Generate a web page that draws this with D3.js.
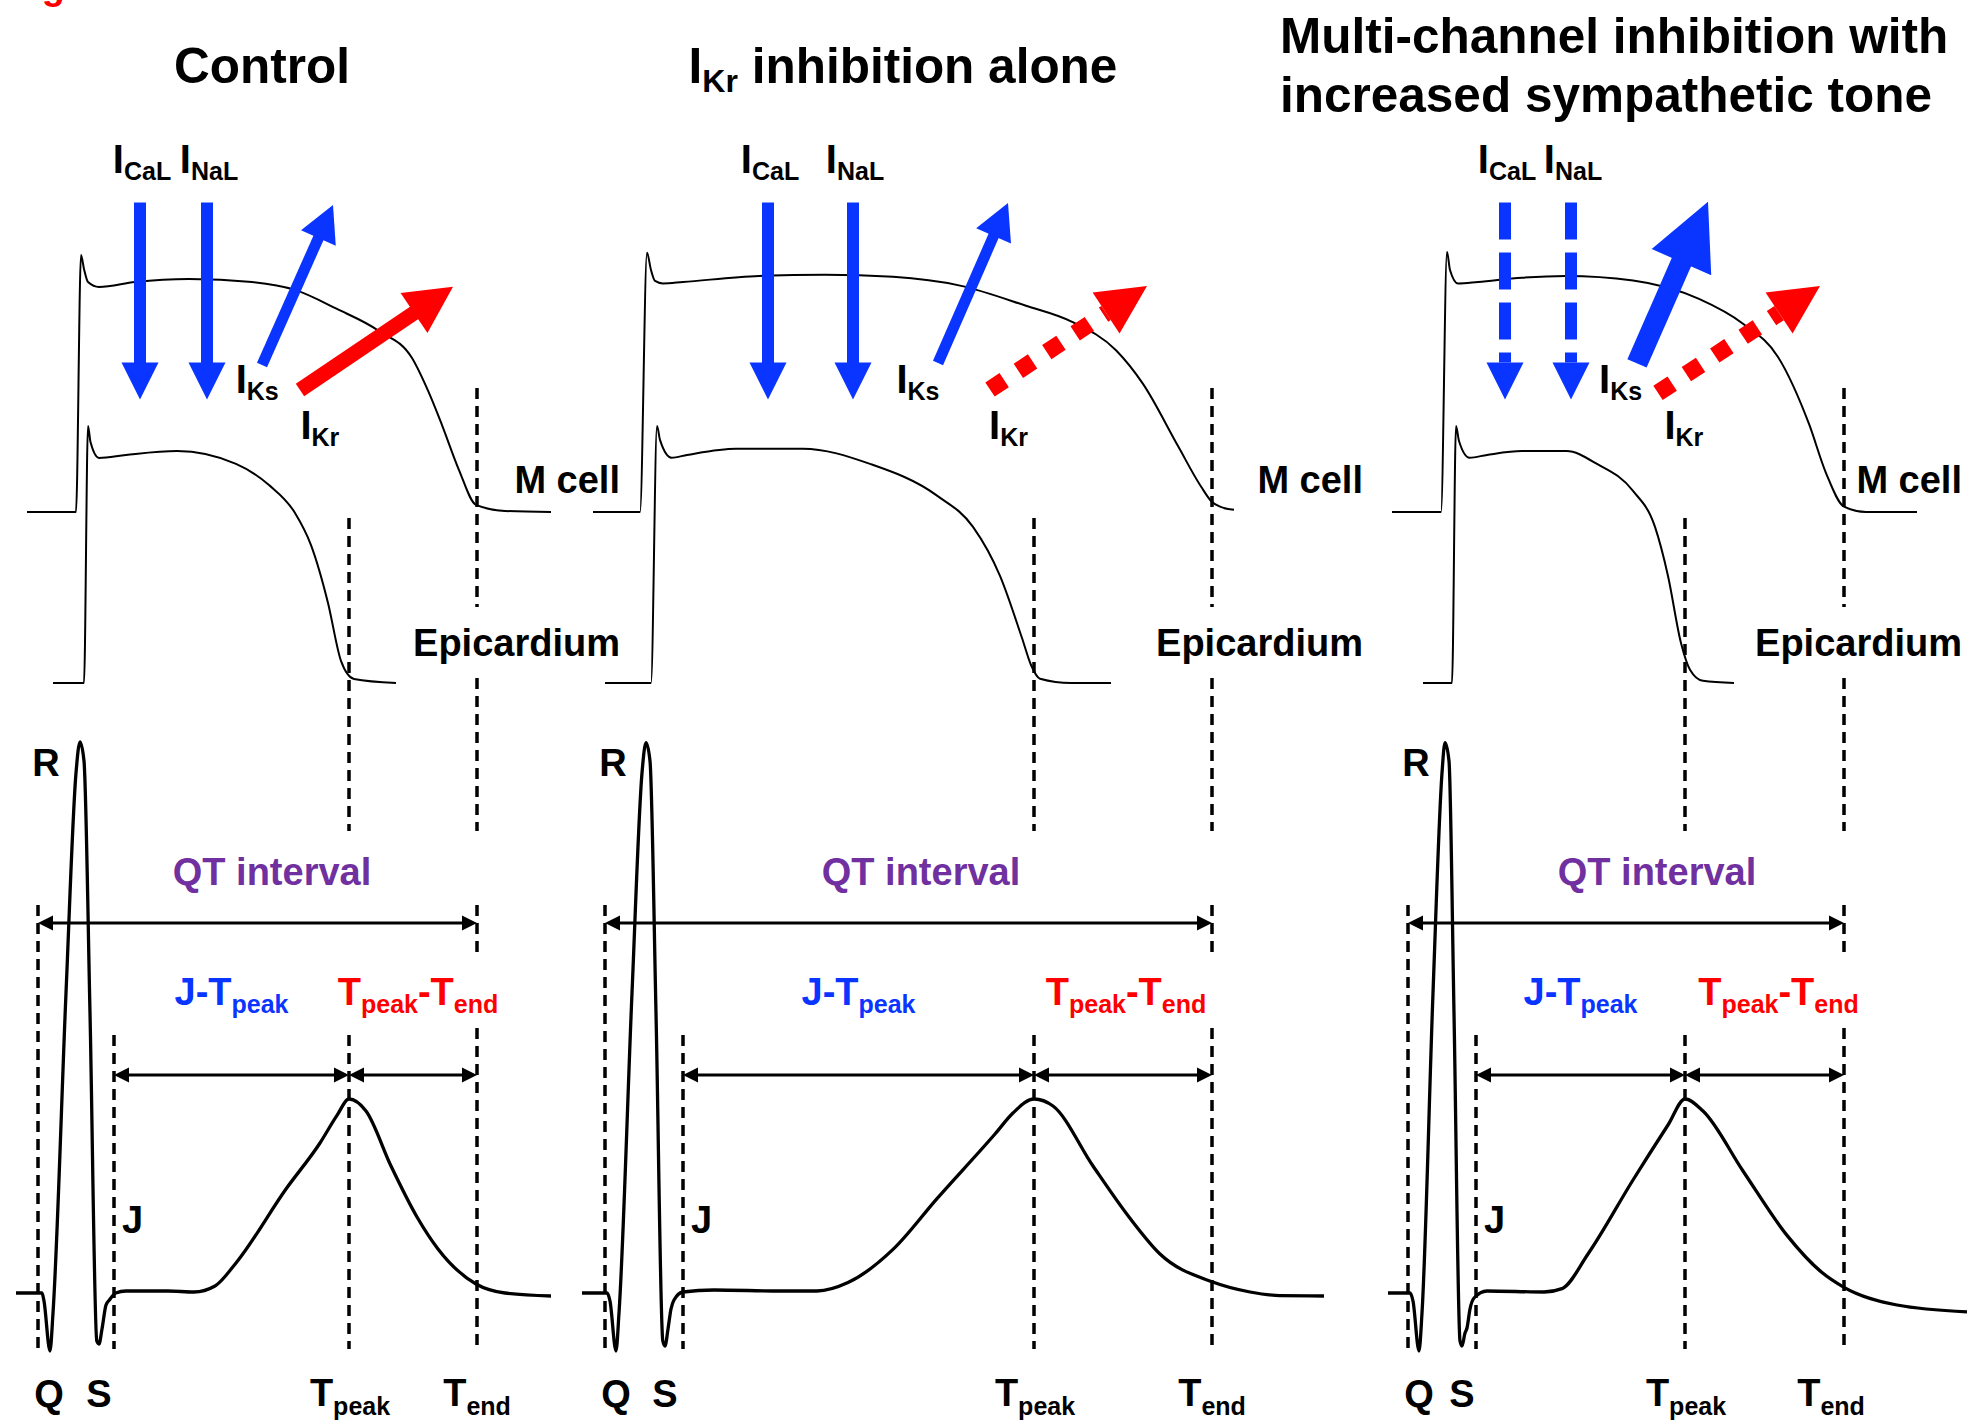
<!DOCTYPE html>
<html>
<head>
<meta charset="utf-8">
<script src="https://cdn.jsdelivr.net/npm/d3@7"></script>
<style>
  body { margin: 0; background: #fff; }
  svg text { font-family: "Liberation Sans", Arial, sans-serif; font-weight: bold; white-space: pre; }
</style>
</head>
<body>
<svg id="fig" width="1971" height="1424"></svg>
<script>
// ---- data -------------------------------------------------------------
// panel titles ("_" toggles subscript, "|" breaks the line)
var titles = ["Control", "I_Kr_ inhibition alone", "Multi-channel inhibition with|increased sympathetic tone"];

// action potentials, [time from Q onset (ms), membrane potential (mV)]
var mCellAP = [
  [[-11,-85],[36,-85],[38,-85],[43,35],[46,28.5],[50,22.4],[61,20.1],[97,22.4],[151,23.8],[214,22.4],[257,18.7],[299,9.8],[341,-0.5],[374,-13.1],[391,-29.4],[404,-44.4],[421,-65.4],[438,-81.7],[467,-84.5],[513,-85]],
  [[-12,-85],[33,-85],[35,-85],[42,36],[46,28],[50,22.9],[58,21.7],[78,22.4],[154,25.2],[220,25.8],[288,24.8],[355,20.7],[421,11.3],[466,4],[511,-9.5],[538,-25.2],[573,-54.2],[596,-73.1],[607,-80.3],[615,-82.5],[629,-84]],
  [[-16,-85],[31,-85],[33,-85],[39,36.4],[42,28],[50,21.7],[70,22.4],[114,24.4],[158,25.2],[225,23.1],[291,14.5],[335,2.9],[370,-12.6],[401,-43.9],[418,-66.8],[436,-82.5],[458,-85],[509,-85]]
];
var epiAP = [
  [[15,-85],[44,-85],[46,-85],[50,35],[52.5,27.5],[61,20.1],[88,21.5],[139,23.3],[198,17.3],[231,7.4],[257,-5.6],[273,-20.6],[290,-47.6],[303,-74.7],[316,-83.1],[358,-85]],
  [[0,-85],[44,-85],[46,-85],[52,35],[55,28.5],[66.5,20.2],[82,21.5],[131,24.4],[198,24.4],[265,17.3],[332,2.5],[368,-12.1],[395,-35],[417,-64],[426,-76.6],[435,-83],[466,-85],[506,-85]],
  [[15,-85],[42,-85],[44,-85],[48,35],[51,28],[61.5,20.2],[79,21.5],[114,23.3],[158.5,23.3],[189,17.3],[225,4.7],[247,-12.1],[260,-35],[273,-66.3],[282,-78.8],[295,-84],[326,-85]]
];

// surface ECG, [time from Q onset (ms), amplitude (mV)]
var ecg = [
  [[-22,0],[4,0],[6,-0.02],[12,-0.145],[15,-0.05],[28,0.75],[38,1.3],[42,1.378],[46,1.33],[52,0.7],[58.8,-0.12],[61,-0.1275],[64,-0.09],[68,-0.03],[71.4,-0.0175],[77.7,0],[88,0.005],[130,0.005],[156,0.0025],[177,0.0175],[198,0.075],[248,0.26],[282,0.375],[299,0.444],[311,0.485],[328,0.455],[353,0.3175],[379,0.19],[400,0.11],[438,0.0225],[467,0],[513,-0.0075]],
  [[-23,0],[2,0],[5,-0.02],[11,-0.145],[14,-0.05],[27,0.75],[37,1.3],[41,1.376],[45,1.33],[51,0.7],[57.8,-0.12],[60,-0.1325],[63,-0.09],[66,-0.04],[69,-0.0175],[78,0.0025],[109,0.0075],[176,0.005],[212,0.005],[243,0.026],[288,0.109],[332,0.236],[390,0.3975],[408,0.45],[429,0.485],[448,0.4675],[488,0.3175],[524,0.19],[555,0.0975],[607,0.028],[645,0.0025],[675,-0.0065],[719,-0.0075]],
  [[-20,0],[2,0],[5,-0.02],[11,-0.145],[14,-0.05],[25,0.75],[34,1.3],[37,1.376],[41,1.33],[46,0.7],[52,-0.12],[54,-0.1325],[57,-0.1],[59,-0.0875],[62,-0.04],[66,-0.0125],[79,0.005],[136,0.0025],[154,0.011],[180,0.0975],[225,0.2825],[260,0.42],[277,0.485],[295,0.455],[335,0.305],[379,0.144],[414,0.051],[436,0.014],[489,-0.03],[559,-0.047]]
];

// ECG fiducial times (ms from Q onset)
var fidQ = [0, 0, 0];
var fidJ = [76, 78, 68];
var fidS = [61, 60, 54];
var fidTpeak = [311, 429, 277];
var fidTend = [439, 607, 436];

// ionic currents, arrow tail/tip in the (ms, mV) frame of the M cell AP
var currentNames = ["I_CaL", "I_NaL", "I_Ks", "I_Kr"];
var currentFrom = [
  [[102, 59.5], [169, 59.5], [224, -16.4], [262, -28]],
  [[163, 59.5], [248, 59.5], [333, -15.4], [385, -27.8]],
  [[97, 59.5], [163, 59.5], [229, -15.6], [250, -29.4]]
];
var currentTo = [
  [[102, -32.5], [169, -32.5], [295, 58.3], [415, 20.2]],
  [[163, -32.5], [248, -32.5], [403, 59.3], [542, 20.5]],
  [[97, -32.5], [163, -32.5], [300, 59.9], [412, 20.5]]
];
var currentState = [
  ["normal", "normal", "normal", "normal"],
  ["normal", "normal", "normal", "blocked"],
  ["reduced", "reduced", "enhanced", "blocked"]
];

// ---- layout -----------------------------------------------------------
var BLUE = "#0a34ff", RED = "#ff0000", PURPLE = "#7030a0";
var layout = [
  {x0: 38, right: 620, titleX: 262, titleAnchor: "middle", titleY: [82.6], qtLabel: 234, tpteShift: 5, tendShift: 0,
   labels: [[104, 73.5], [171, 73.5], [197.7, -29.6], [262.4, -50.9]]},
  {x0: 605, right: 1363, titleX: 903, titleAnchor: "middle", titleY: [82.6], qtLabel: 316, tpteShift: 3, tendShift: 0,
   labels: [[165, 73.5], [250, 73.5], [291.4, -29.6], [384, -50.9]]},
  {x0: 1408, right: 1962, titleX: 1280, titleAnchor: "start", titleY: [52.7, 111.6], qtLabel: 249, tpteShift: 14, tendShift: -13,
   labels: [[99, 73.5], [165, 73.5], [191, -29.6], [256.4, -50.9]]}
];
// vertical extents of the dashed guide lines (px)
var guideRows = {
  Q: [[905, 1349]],
  J: [[1035, 1349]],
  Tpeak: [[518, 831], [1035, 1349]],
  Tend: [[388, 607], [678, 831], [905, 956], [1028, 1349]]
};
var arrowStyle = {
  down: {normal: {shaft: 12, headW: 37, headL: 37}, reduced: {shaft: 12, headW: 37, headL: 37, dash: "37,13"}},
  ks: {normal: {shaft: 11, headW: 38, headL: 36}, enhanced: {shaft: 21, headW: 65, headL: 66}},
  kr: {normal: {shaft: 15, headW: 48, headL: 47}, blocked: {shaft: 17, headW: 49, headL: 49, dash: "17,17"}}
};

var svg = d3.select("#fig");
var mScale = d3.scaleLinear().domain([-85, 35]).range([512, 255]);
var eScale = d3.scaleLinear().domain([-85, 35]).range([683, 426]);
var ecgScale = d3.scaleLinear().domain([0, 1]).range([1293, 893]);

function trace(x, y) {
  return d3.line().x(function (d) { return x(d[0]); }).y(function (d) { return y(d[1]); })
    .curve(d3.curveMonotoneX);
}

// text with "_" toggling subscripts
function richText(parent, x, y, str, size, subSize, shift, anchor, fill) {
  var t = parent.append("text").attr("x", x).attr("y", y)
    .attr("text-anchor", anchor || "start").attr("fill", fill || "#000")
    .style("font-size", size + "px");
  var cur = 0;
  str.split("_").forEach(function (s, i) {
    if (!s) return;
    var target = i % 2 ? shift : 0;
    t.append("tspan").attr("dy", target - cur)
      .style("font-size", (i % 2 ? subSize : size) + "px").text(s);
    cur = target;
  });
  return t;
}

function blockArrow(g, p1, p2, st, color) {
  var dx = p2[0] - p1[0], dy = p2[1] - p1[1], len = Math.hypot(dx, dy);
  var ux = dx / len, uy = dy / len, nx = -uy, ny = ux;
  var bx = p2[0] - ux * st.headL, by = p2[1] - uy * st.headL;
  var over = st.dash ? 0 : 2;
  g.append("line")
    .attr("x1", p1[0]).attr("y1", p1[1])
    .attr("x2", bx + ux * over).attr("y2", by + uy * over)
    .attr("stroke", color).attr("stroke-width", st.shaft)
    .attr("stroke-dasharray", st.dash || null);
  var h = st.headW / 2;
  g.append("path")
    .attr("d", "M" + p2 + "L" + [bx + nx * h, by + ny * h] + "L" + [bx - nx * h, by - ny * h] + "Z")
    .attr("fill", color);
}

function intervalArrow(g, xa, xb, y) {
  var L = 15, h = 7.5;
  g.append("line").attr("x1", xa + 4).attr("x2", xb - 4).attr("y1", y).attr("y2", y)
    .attr("stroke", "#000").attr("stroke-width", 3);
  g.append("path").attr("d", "M" + [xa, y] + "L" + [xa + L, y - h] + "L" + [xa + L, y + h] + "Z");
  g.append("path").attr("d", "M" + [xb, y] + "L" + [xb - L, y - h] + "L" + [xb - L, y + h] + "Z");
}

// cut-off figure label at the top edge (as in the source figure)
svg.append("text").attr("x", 8).attr("y", -1.5).attr("fill", RED)
  .style("font-size", "38px").text("Fig");

layout.forEach(function (lay, p) {
  var g = svg.append("g");
  var x = d3.scaleLinear().domain([0, 100]).range([lay.x0, lay.x0 + 100]);

  // title
  titles[p].split("|").forEach(function (s, i) {
    richText(g, lay.titleX, lay.titleY[i], s, 49.5, 32, 9, lay.titleAnchor);
  });

  // dashed guides
  var fids = {Q: fidQ[p], J: fidJ[p], Tpeak: fidTpeak[p], Tend: fidTend[p]};
  Object.keys(guideRows).forEach(function (k) {
    guideRows[k].forEach(function (r) {
      g.append("line").attr("x1", x(fids[k])).attr("x2", x(fids[k]))
        .attr("y1", r[0]).attr("y2", r[1])
        .attr("stroke", "#000").attr("stroke-width", 3.5).attr("stroke-dasharray", "11,7");
    });
  });

  // action potentials
  g.append("path").datum(mCellAP[p]).attr("d", trace(x, mScale))
    .attr("fill", "none").attr("stroke", "#000").attr("stroke-width", 2);
  g.append("path").datum(epiAP[p]).attr("d", trace(x, eScale))
    .attr("fill", "none").attr("stroke", "#000").attr("stroke-width", 2);

  // ionic currents
  currentNames.forEach(function (name, i) {
    var kind = i < 2 ? "down" : (i === 2 ? "ks" : "kr");
    var color = i === 3 ? RED : BLUE;
    var st = arrowStyle[kind][currentState[p][i]];
    var a = currentFrom[p][i], b = currentTo[p][i];
    blockArrow(g, [x(a[0]), mScale(a[1])], [x(b[0]), mScale(b[1])], st, color);
    var lb = lay.labels[i];
    richText(g, x(lb[0]), mScale(lb[1]), name, 40, 25, 7, i < 2 ? "middle" : "start");
  });

  // cell labels
  g.append("text").attr("x", lay.right).attr("y", 493).attr("text-anchor", "end")
    .style("font-size", "38px").text("M cell");
  g.append("text").attr("x", lay.right).attr("y", 656).attr("text-anchor", "end")
    .style("font-size", "38px").text("Epicardium");

  // ECG
  g.append("path").datum(ecg[p]).attr("d", trace(x, ecgScale))
    .attr("fill", "none").attr("stroke", "#000").attr("stroke-width", 3.3)
    .attr("stroke-linejoin", "round");

  // intervals
  intervalArrow(g, x(fidQ[p]), x(fidTend[p]), ecgScale(0.925));
  intervalArrow(g, x(fidJ[p]), x(fidTpeak[p]), ecgScale(0.545));
  intervalArrow(g, x(fidTpeak[p]), x(fidTend[p]), ecgScale(0.545));

  g.append("text").attr("x", x(lay.qtLabel)).attr("y", 884.7).attr("text-anchor", "middle")
    .attr("fill", PURPLE).style("font-size", "38px").text("QT interval");
  richText(g, x((fidJ[p] + fidTpeak[p]) / 2), 1005, "J-T_peak", 38, 25, 8, "middle", BLUE);
  richText(g, x((fidTpeak[p] + fidTend[p]) / 2 + lay.tpteShift), 1005, "T_peak_-T_end", 38, 25, 8, "middle", RED);

  // wave labels
  g.append("text").attr("x", x(8)).attr("y", 776).attr("text-anchor", "middle")
    .style("font-size", "38px").text("R");
  g.append("text").attr("x", x(11)).attr("y", 1407).attr("text-anchor", "middle")
    .style("font-size", "38px").text("Q");
  g.append("text").attr("x", x(fidS[p])).attr("y", 1407).attr("text-anchor", "middle")
    .style("font-size", "38px").text("S");
  g.append("text").attr("x", x(fidJ[p] + 8)).attr("y", 1233)
    .style("font-size", "38px").text("J");
  richText(g, x(fidTpeak[p] + 1), 1406, "T_peak", 38, 25, 9, "middle");
  richText(g, x(fidTend[p] + lay.tendShift), 1406, "T_end", 38, 25, 9, "middle");
});
</script>
</body>
</html>
